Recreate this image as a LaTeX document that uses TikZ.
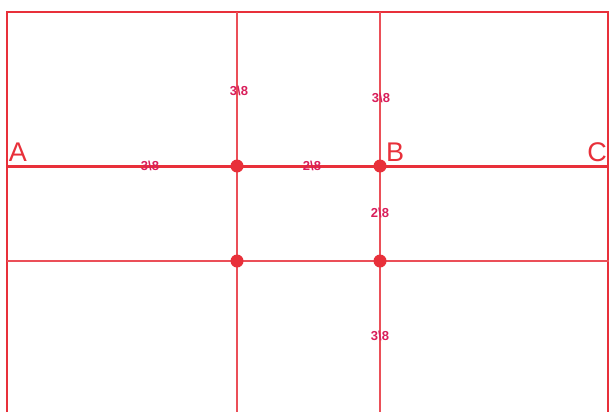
\documentclass[tikz,border=0pt]{standalone}
\usepackage{fontspec}
\setmainfont{Liberation Sans}
\usetikzlibrary{positioning}
\definecolor{gridRed}{HTML}{E8303A}
\definecolor{ratioPink}{HTML}{D91E5A}
\tikzset{
  frameline/.style={draw=gridRed, line width=1.6pt},
  gridline/.style={draw=gridRed!85, line width=1.4pt},
  mainline/.style={draw=gridRed, line width=3pt},
  crossdot/.style={circle, fill=gridRed, inner sep=0pt, minimum size=13pt},
  ratio/.style={font=\bfseries\fontsize{13}{14}\selectfont, text=ratioPink, inner sep=0pt},
  point/.style={font=\fontsize{27}{29}\selectfont, text=gridRed, inner sep=0pt}
}
\begin{document}
\begin{tikzpicture}[x=1pt, y=-1pt]
  \useasboundingbox[fill=white] (0,0) rectangle (609,412);
  % frame corners and line ends
  \coordinate (frameBL) at (7,412);
  \coordinate (frameTL) at (7,12);
  \coordinate (frameTR) at (608,12);
  \coordinate (frameBR) at (608,412);
  \coordinate (leftTop) at (237,12);
  \coordinate (leftBot) at (237,412);
  \coordinate (rightTop) at (380,12);
  \coordinate (rightBot) at (380,412);
  \coordinate (lowW) at (7,261);
  \coordinate (lowE) at (609,261);
  \coordinate (mainW) at (7,166);
  \coordinate (mainE) at (609,166);
  % grid
  \draw[frameline] (frameBL) -- (frameTL) -- (frameTR) -- (frameBR);
  \draw[gridline] (leftTop) -- (leftBot);
  \draw[gridline] (rightTop) -- (rightBot);
  \draw[gridline] (lowW) -- (lowE);
  \draw[mainline] (mainW) -- (mainE);
  % intersections
  \node[crossdot] (dotAB1) at (237,166) {};
  \node[crossdot] (dotB) at (380,166) {};
  \node[crossdot] (dotLow1) at (237,261) {};
  \node[crossdot] (dotLow2) at (380,261) {};
  % points
  \node[point] (ptA) at (18,152) {A};
  \node[point] (ptB) at (395,152) {B};
  \node[point] (ptC) at (597,152) {C};
  % ratios
  \node[ratio] (rAlong) at (150,166) {3\textbackslash 8};
  \node[ratio] (rBetween) at (312,166) {2\textbackslash 8};
  \node[ratio] (rLeftUp) at (239,91) {3\textbackslash 8};
  \node[ratio] (rRightUp) at (381,98) {3\textbackslash 8};
  \node[ratio] (rRightMid) at (380,213) {2\textbackslash 8};
  \node[ratio] (rRightLow) at (380,336) {3\textbackslash 8};
\end{tikzpicture}
\end{document}
